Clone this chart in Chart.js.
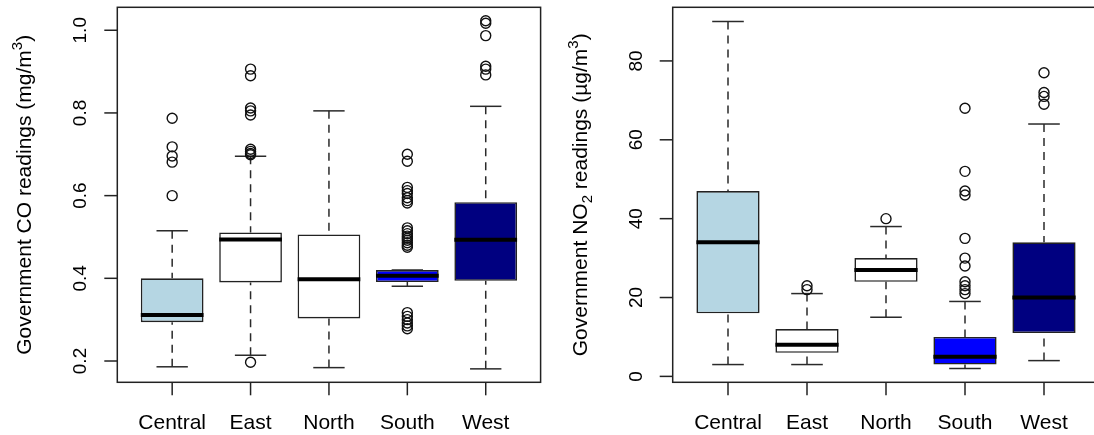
<!DOCTYPE html>
<html>
<head>
<meta charset="utf-8">
<title>Government CO and NO2 readings by region</title>
<script src="https://cdn.jsdelivr.net/npm/chart.js@4.4.1/dist/chart.umd.min.js"></script>
<style>
  html, body { margin: 0; padding: 0; overflow: hidden; background: #fff; width: 1094px; height: 435px; }
  .panel { position: absolute; top: 0; height: 435px; }
  #coWrap { left: 0; width: 547px; }
  #no2Wrap { left: 547px; width: 560px; }
</style>
</head>
<body>
<div id="coWrap" class="panel"><canvas id="co" width="547" height="435"></canvas></div>
<div id="no2Wrap" class="panel"><canvas id="no2" width="560" height="435"></canvas></div>
<script>
// Regions and box fill colours
const regions = ['Central', 'East', 'North', 'South', 'West'];
const boxColors = ['#B5D6E3', '#FFFFFF', '#FFFFFF', '#0000FF', '#000080'];

// CO readings (mg/m3): five-number summaries and outliers per region
const coWhiskerLow  = [0.186, 0.214, 0.184, 0.381, 0.181];
const coQ1          = [0.294, 0.390, 0.303, 0.391, 0.394];
const coMedian      = [0.311, 0.494, 0.398, 0.406, 0.493];
const coQ3          = [0.400, 0.511, 0.506, 0.420, 0.584];
const coWhiskerHigh = [0.515, 0.695, 0.805, 0.420, 0.816];
const coOutliers = [
  [0.787, 0.718, 0.696, 0.681, 0.600],
  [0.906, 0.890, 0.812, 0.805, 0.795, 0.712, 0.707, 0.702, 0.699, 0.197],
  [],
  [0.700, 0.683, 0.620, 0.612, 0.605, 0.595, 0.588, 0.582, 0.522, 0.515, 0.508, 0.502,
   0.497, 0.492, 0.486, 0.480, 0.475, 0.317, 0.308, 0.300, 0.292, 0.285, 0.278],
  [1.023, 1.017, 0.987, 0.913, 0.906, 0.892]
];
const coTicks = [0.2, 0.4, 0.6, 0.8, 1.0];
const coTickLabels = ['0.2', '0.4', '0.6', '0.8', '1.0'];

// NO2 readings (µg/m3): five-number summaries and outliers per region
const no2WhiskerLow  = [3, 3, 15, 2, 4];
const no2Q1          = [16, 6, 24, 3, 11];
const no2Median      = [34, 8, 27, 5, 20];
const no2Q3          = [47, 12, 30, 10, 34];
const no2WhiskerHigh = [90, 21, 38, 19, 64];
const no2Outliers = [
  [],
  [23, 22],
  [40],
  [68, 52, 47, 46, 35, 30, 28, 24, 23, 22, 21],
  [77, 72, 71, 69]
];
const no2Ticks = [0, 20, 40, 60, 80];
const no2TickLabels = ['0', '20', '40', '60', '80'];

const FONT = '"Liberation Sans", Arial, Helvetica, sans-serif';

function seg(ctx, x1, y1, x2, y2) {
  ctx.beginPath();
  ctx.moveTo(x1, y1);
  ctx.lineTo(x2, y2);
  ctx.stroke();
}

// Draws whiskers, medians, frame, axes and titles of one box plot
function boxPlotDecor(s) {
  return {
    id: 'boxDecor',
    beforeDatasetsDraw(chart) {
      const { ctx, scales: { x, y } } = chart;
      ctx.save();
      ctx.strokeStyle = '#2a2a2a';
      ctx.lineWidth = 1.5;
      ctx.lineCap = 'butt';
      regions.forEach((r, i) => {
        const cx = x.getPixelForValue(i + 1);
        const yHi = y.getPixelForValue(s.high[i]);
        const yLo = y.getPixelForValue(s.low[i]);
        ctx.setLineDash([8, 6]);
        if (s.high[i] > s.q3[i]) seg(ctx, cx, yHi, cx, y.getPixelForValue(s.q3[i]));
        if (s.low[i] < s.q1[i]) seg(ctx, cx, yLo, cx, y.getPixelForValue(s.q1[i]));
        ctx.setLineDash([]);
        const xl = x.getPixelForValue(i + 1 - 0.2);
        const xr = x.getPixelForValue(i + 1 + 0.2);
        seg(ctx, xl, yHi, xr, yHi);
        seg(ctx, xl, yLo, xr, yLo);
      });
      ctx.restore();
    },
    afterDatasetsDraw(chart) {
      const { ctx, scales: { x, y } } = chart;
      ctx.save();
      ctx.strokeStyle = '#000';
      ctx.lineWidth = 4;
      regions.forEach((r, i) => {
        const ym = y.getPixelForValue(s.median[i]);
        seg(ctx, x.getPixelForValue(i + 1 - 0.4), ym, x.getPixelForValue(i + 1 + 0.4), ym);
      });
      ctx.restore();
    },
    afterDraw(chart) {
      const { ctx, chartArea: a, scales: { x, y } } = chart;
      ctx.save();
      ctx.strokeStyle = '#222';
      ctx.lineWidth = 1.5;
      ctx.strokeRect(a.left, a.top, a.right - a.left, a.bottom - a.top);
      ctx.fillStyle = '#000';

      // y axis ticks and rotated labels
      ctx.font = '19px ' + FONT;
      ctx.textAlign = 'center';
      ctx.textBaseline = 'alphabetic';
      s.ticks.forEach((v, k) => {
        const py = y.getPixelForValue(v);
        seg(ctx, a.left - 13, py, a.left, py);
        ctx.save();
        ctx.translate(a.left - 31, py);
        ctx.rotate(-Math.PI / 2);
        ctx.fillText(s.tickLabels[k], 0, 0);
        ctx.restore();
      });

      // x axis ticks and category labels
      ctx.font = '21px ' + FONT;
      regions.forEach((r, i) => {
        const px = x.getPixelForValue(i + 1);
        seg(ctx, px, a.bottom, px, a.bottom + 13);
        ctx.fillText(r, px, a.bottom + 46.7);
      });

      // y axis title with sub/superscripts
      const parts = s.title;
      let total = 0;
      parts.forEach(p => {
        ctx.font = (p.size || 21) + 'px ' + FONT;
        p.w = ctx.measureText(p.t).width;
        total += p.w;
      });
      ctx.save();
      ctx.translate(a.left - 86, (a.top + a.bottom) / 2);
      ctx.rotate(-Math.PI / 2);
      ctx.textAlign = 'left';
      let cx = -total / 2;
      parts.forEach(p => {
        ctx.font = (p.size || 21) + 'px ' + FONT;
        ctx.fillText(p.t, cx, p.dy || 0);
        cx += p.w;
      });
      ctx.restore();
      ctx.restore();
    }
  };
}

function makeBoxChart(canvasId, s) {
  const outlierPoints = [];
  s.outliers.forEach((list, i) => list.forEach(v => outlierPoints.push({ x: i + 1, y: v })));
  return new Chart(document.getElementById(canvasId), {
    type: 'bar',
    data: {
      datasets: [
        {
          type: 'scatter',
          data: outlierPoints,
          pointStyle: 'circle',
          pointRadius: 5,
          pointBorderWidth: 1.4,
          pointBorderColor: '#111',
          pointBackgroundColor: 'rgba(0,0,0,0)',
          showLine: false
        },
        {
          type: 'bar',
          data: regions.map((r, i) => ({ x: i + 1, y: [s.q1[i], s.q3[i]] })),
          backgroundColor: boxColors,
          borderColor: '#222',
          borderWidth: 1.6,
          borderSkipped: false,
          barPercentage: 0.8,
          categoryPercentage: 1.0,
          grouped: false
        }
      ]
    },
    options: {
      responsive: false,
      animation: false,
      devicePixelRatio: 1,
      events: [],
      layout: { padding: s.padding },
      plugins: { legend: { display: false }, tooltip: { enabled: false } },
      scales: {
        x: {
          type: 'linear', display: false, offset: false, min: 0.3, max: 5.7,
          grid: { offset: false },
          afterBuildTicks: sc => { sc.ticks = regions.map((r, i) => ({ value: i + 1 })); }
        },
        y: { type: 'linear', display: false, min: s.yMin, max: s.yMax }
      }
    },
    plugins: [boxPlotDecor(s)]
  });
}

makeBoxChart('co', {
  low: coWhiskerLow, q1: coQ1, median: coMedian, q3: coQ3, high: coWhiskerHigh,
  outliers: coOutliers, ticks: coTicks, tickLabels: coTickLabels,
  yMin: 0.1485, yMax: 1.0555,
  padding: { left: 117.3, right: 2.7, top: 7.3, bottom: 52.7 },
  title: [
    { t: 'Government CO readings (mg/m' },
    { t: '3', size: 15, dy: -9 },
    { t: ')' }
  ]
});

makeBoxChart('no2', {
  low: no2WhiskerLow, q1: no2Q1, median: no2Median, q3: no2Q3, high: no2WhiskerHigh,
  outliers: no2Outliers, ticks: no2Ticks, tickLabels: no2TickLabels,
  yMin: -1.5, yMax: 93.6,
  padding: { left: 125.7, right: 7.7, top: 7.3, bottom: 52.7 },
  title: [
    { t: 'Government NO' },
    { t: '2', size: 15, dy: 5 },
    { t: ' readings (\u00B5g/m' },
    { t: '3', size: 15, dy: -9 },
    { t: ')' }
  ]
});
</script>
</body>
</html>
